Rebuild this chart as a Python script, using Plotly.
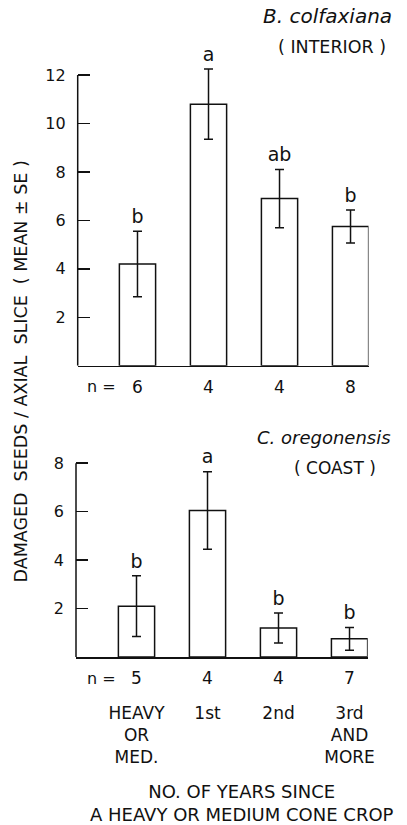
import plotly.graph_objects as go

# ---------------- data ----------------
categories = ["HEAVY<br>OR<br>MED.", "1st", "2nd", "3rd<br>AND<br>MORE"]

interior_mean = [4.2, 10.8, 6.9, 5.75]
interior_se = [1.35, 1.45, 1.2, 0.68]
interior_letters = ["b", "a", "ab", "b"]
interior_n = ["6", "4", "4", "8"]

coast_mean = [2.1, 6.05, 1.2, 0.75]
coast_se = [1.25, 1.6, 0.62, 0.47]
coast_letters = ["b", "a", "b", "b"]
coast_n = ["5", "4", "4", "7"]

top_ticks = [2, 4, 6, 8, 10, 12]
bottom_ticks = [2, 4, 6, 8]

W, H = 407, 825
FONT = "DejaVu Sans"
INK = "#111111"
PXU = 24.22  # pixels per unit on both panels

def px(x):
    return x / W

def py(y):
    return 1 - y / H

xpos = list(range(len(categories)))

fig = go.Figure()

bar_style = dict(marker=dict(color="white", line=dict(color=INK, width=1.5)), width=0.51,
                 showlegend=False, cliponaxis=False, hoverinfo="skip")

fig.add_trace(go.Bar(x=xpos, y=interior_mean,
                     error_y=dict(type="data", array=interior_se, visible=True, color=INK, thickness=1.5, width=4.5),
                     xaxis="x", yaxis="y", **bar_style))
fig.add_trace(go.Bar(x=xpos, y=coast_mean,
                     error_y=dict(type="data", array=coast_se, visible=True, color=INK, thickness=1.5, width=4.5),
                     xaxis="x2", yaxis="y2", **bar_style))

# significance letters above the error bars
letter_style = dict(mode="markers+text", textposition="top center",
                    marker=dict(size=4, opacity=0), textfont=dict(size=19, family=FONT, color=INK),
                    cliponaxis=False, showlegend=False, hoverinfo="skip")
fig.add_trace(go.Scatter(x=xpos, y=[m + s for m, s in zip(interior_mean, interior_se)],
                         text=interior_letters, xaxis="x", yaxis="y", **letter_style))
fig.add_trace(go.Scatter(x=xpos, y=[m + s for m, s in zip(coast_mean, coast_se)],
                         text=coast_letters, xaxis="x2", yaxis="y2", **letter_style))

axis_common = dict(showgrid=False, zeroline=False, linecolor=INK, linewidth=1.5,
                   automargin=False, fixedrange=True)

top_max = 12.7
top_y0 = 365.7
bot_max = 8.4
bot_y0 = 657

fig.update_layout(
    width=W, height=H,
    margin=dict(l=0, r=0, t=0, b=0, autoexpand=False),
    paper_bgcolor="white", plot_bgcolor="white",
    font=dict(family=FONT, color=INK),
    bargap=0,
    xaxis=dict(domain=[px(77.7), px(368.5)], range=[-0.842, 3.253], anchor="y", showline=True,
               showticklabels=False, ticks="", **axis_common),
    yaxis=dict(domain=[py(top_y0), py(top_y0 - top_max * PXU)], range=[0, top_max], anchor="x",
               showline=False, tickvals=top_ticks, ticks="inside", ticklen=12, tickwidth=1.5, tickcolor=INK,
               tickfont=dict(size=16, family=FONT, color=INK), ticklabelstandoff=11, **axis_common),
    xaxis2=dict(domain=[px(76), px(367.7)], range=[-0.852, 3.256], anchor="y2", showline=True,
                tickvals=xpos, ticktext=categories, ticks="", ticklabelstandoff=40,
                tickfont=dict(size=17, family=FONT, color=INK), **axis_common),
    yaxis2=dict(domain=[py(bot_y0), py(bot_y0 - bot_max * PXU)], range=[0, bot_max], anchor="x2",
                showline=False, tickvals=bottom_ticks, ticks="inside", ticklen=12, tickwidth=1.5, tickcolor=INK,
                tickfont=dict(size=16, family=FONT, color=INK), ticklabelstandoff=11, **axis_common),
)

# vertical axis lines running from 0 to the highest tick
fig.add_shape(type="line", xref="x domain", yref="y", x0=0, x1=0, y0=0, y1=top_ticks[-1],
              line=dict(color=INK, width=1.5))
fig.add_shape(type="line", xref="x2 domain", yref="y2", x0=0, x1=0, y0=0, y1=bottom_ticks[-1],
              line=dict(color=INK, width=1.5))

ann = []

def text_at(x, y, text, size, **kw):
    d = dict(x=px(x), y=py(y), xref="paper", yref="paper", text=text, showarrow=False,
             xanchor="center", yanchor="middle", font=dict(size=size))
    d.update(kw)
    ann.append(d)

# n labels
for i, t in enumerate(interior_n):
    ann.append(dict(x=i, y=py(386.7), xref="x", yref="paper", text=t, showarrow=False,
                    xanchor="center", yanchor="middle", font=dict(size=17)))
for i, t in enumerate(coast_n):
    ann.append(dict(x=i, y=py(678.3), xref="x2", yref="paper", text=t, showarrow=False,
                    xanchor="center", yanchor="middle", font=dict(size=17)))
text_at(101.5, 386.7, "n =", 16)
text_at(101.5, 678.3, "n =", 16)
# panel titles
text_at(327, 16, "<i>B. colfaxiana</i>", 20)
text_at(332, 47, "( INTERIOR )", 17.5)
text_at(324, 437, "<i>C. oregonensis</i>", 18)
text_at(335, 468, "( COAST )", 17)
# y title
ytitle = "DAMAGED\u00a0 SEEDS\u00a0/\u00a0AXIAL\u00a0 SLICE\u00a0 (\u00a0MEAN\u00a0±\u00a0SE\u00a0)"
text_at(20, 371.5, ytitle, 17.5, textangle=-90)
# x title
text_at(241.5, 802.5, "NO. OF YEARS SINCE<br>A HEAVY OR MEDIUM CONE CROP", 18)

fig.update_layout(annotations=ann)

fig.write_html("out.html", config={"displayModeBar": False, "staticPlot": True},
               post_script="document.body.style.margin='0';")
